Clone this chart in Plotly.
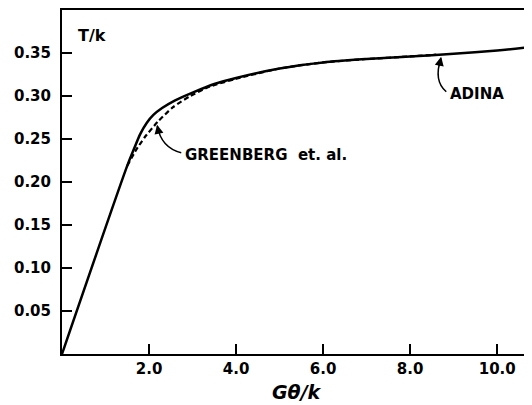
import plotly.graph_objects as go

# ADINA (solid)
adina_x = [0.0, 1.5, 1.65, 1.8, 1.95, 2.1, 2.3, 2.6, 3.0, 3.5, 4.0, 5.0, 6.0, 7.0, 8.0, 9.0, 10.0, 10.8]
adina_y = [0.0, 0.219, 0.238, 0.256, 0.269, 0.278, 0.286, 0.295, 0.304, 0.314, 0.321, 0.332, 0.339, 0.343, 0.346, 0.349, 0.353, 0.357]

# Greenberg et. al. (dashed)
green_x = [1.5, 1.7, 1.9, 2.2, 2.55, 2.95, 3.4, 4.0, 5.0, 6.0, 7.0, 8.0, 8.6]
green_y = [0.219, 0.237, 0.252, 0.270, 0.287, 0.300, 0.311, 0.320, 0.332, 0.339, 0.343, 0.346, 0.348]

x_ticks = [2, 4, 6, 8, 10]
x_tick_labels = ["2.0", "4.0", "6.0", "8.0", "10.0"]
y_ticks = [0.05, 0.10, 0.15, 0.20, 0.25, 0.30, 0.35]
y_tick_labels = ["0.05", "0.10", "0.15", "0.20", "0.25", "0.30", "0.35"]

FONT = "DejaVu Sans"

fig = go.Figure()
fig.add_trace(go.Scatter(x=adina_x, y=adina_y, mode="lines",
                         line=dict(color="black", width=2.5, shape="spline", smoothing=0.8),
                         showlegend=False))
fig.add_trace(go.Scatter(x=green_x, y=green_y, mode="lines",
                         line=dict(color="black", width=2.2, dash="5px,3px", shape="spline", smoothing=0.6),
                         showlegend=False))

# curved leader lines
fig.add_shape(type="path", xref="x", yref="y",
              path="M 2.19 0.265 Q 2.28 0.240 2.74 0.234",
              line=dict(color="black", width=1.5))
fig.add_shape(type="path", xref="x", yref="y",
              path="M 8.71 0.344 Q 8.53 0.318 8.83 0.305",
              line=dict(color="black", width=1.5))

# arrowheads
fig.add_annotation(x=2.185, y=0.2665, ax=2.23, ay=0.256, axref="x", ayref="y",
                   xref="x", yref="y", text="", showarrow=True,
                   arrowhead=2, arrowsize=1.2, arrowwidth=1.5, arrowcolor="black")
fig.add_annotation(x=8.712, y=0.3455, ax=8.66, ay=0.333, axref="x", ayref="y",
                   xref="x", yref="y", text="", showarrow=True,
                   arrowhead=2, arrowsize=1.2, arrowwidth=1.5, arrowcolor="black")

# labels
fig.add_annotation(x=2.78, y=0.2314, xref="x", yref="y", text="GREENBERG  et. al.",
                   showarrow=False, xanchor="left", yanchor="middle",
                   font=dict(family=FONT, size=15, color="black", weight="bold"))
fig.add_annotation(x=8.87, y=0.3023, xref="x", yref="y", text="ADINA",
                   showarrow=False, xanchor="left", yanchor="middle",
                   font=dict(family=FONT, size=15, color="black", weight="bold"))
fig.add_annotation(x=0.33, y=0.3698, xref="x", yref="y", text="T/k",
                   showarrow=False, xanchor="left", yanchor="middle",
                   font=dict(family=FONT, size=16, color="black", weight="bold"))
fig.add_annotation(x=0.5, y=-0.11, xref="paper", yref="paper", text="<i>Gθ/k</i>",
                   showarrow=False, xanchor="center", yanchor="middle",
                   font=dict(family=FONT, size=19, color="black", weight="bold"))

# page body has an 8px default margin, so the figure is shrunk to compensate
fig.update_layout(
    width=524, height=397,
    margin=dict(l=54, r=0, t=2, b=51, autoexpand=False),
    paper_bgcolor="white", plot_bgcolor="white",
    showlegend=False,
)
fig.update_xaxes(range=[0, 10.8], tickvals=x_ticks, ticktext=x_tick_labels,
                 ticks="inside", ticklen=10, tickwidth=1.5, tickcolor="black",
                 showline=True, linecolor="black", linewidth=2, mirror=True,
                 showgrid=False, zeroline=False,
                 tickfont=dict(family=FONT, size=15, color="black", weight="bold"))
fig.update_yaxes(range=[0, 0.4], tickvals=y_ticks, ticktext=y_tick_labels,
                 ticks="inside", ticklen=10, tickwidth=1.5, tickcolor="black",
                 showline=True, linecolor="black", linewidth=2,
                 showgrid=False, zeroline=False, ticklabelstandoff=6,
                 tickfont=dict(family=FONT, size=15, color="black", weight="bold"))

fig.write_html("out.html")
